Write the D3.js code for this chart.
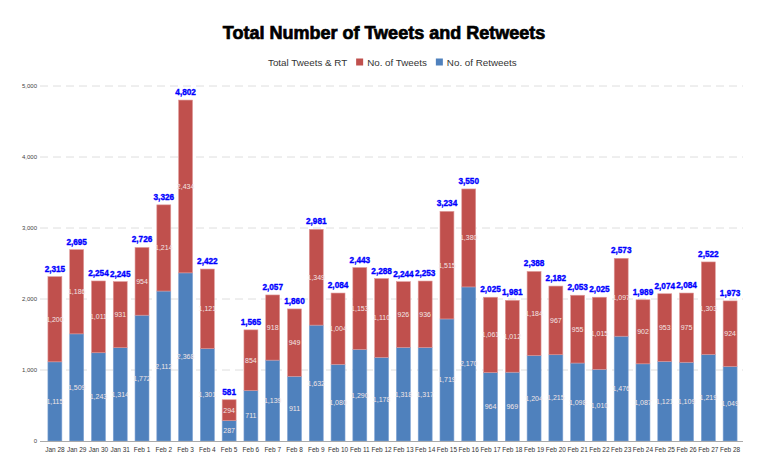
<!DOCTYPE html>
<html><head><meta charset="utf-8">
<script src="https://cdn.jsdelivr.net/npm/d3@7"></script>
<style>body{margin:0;background:#fff}svg{display:block}</style>
</head><body>
<svg id="c" width="768" height="475"></svg>
<script>
const categories = ["Jan 28","Jan 29","Jan 30","Jan 31","Feb 1","Feb 2","Feb 3","Feb 4","Feb 5","Feb 6","Feb 7","Feb 8","Feb 9","Feb 10","Feb 11","Feb 12","Feb 13","Feb 14","Feb 15","Feb 16","Feb 17","Feb 18","Feb 19","Feb 20","Feb 21","Feb 22","Feb 23","Feb 24","Feb 25","Feb 26","Feb 27","Feb 28"];
const retweets = [1115,1509,1243,1314,1772,2112,2368,1301,287,711,1139,911,1632,1080,1290,1178,1318,1317,1719,2170,964,969,1204,1215,1098,1010,1476,1087,1121,1109,1219,1049];
const tweets = [1200,1186,1011,931,954,1214,2434,1121,294,854,918,949,1349,1004,1153,1110,926,936,1515,1380,1061,1012,1184,967,955,1015,1097,902,953,975,1303,924];
const totals = [2315,2695,2254,2245,2726,3326,4802,2422,581,1565,2057,1860,2981,2084,2443,2288,2244,2253,3234,3550,2025,1981,2388,2182,2053,2025,2573,1989,2074,2084,2522,1973];
const yTicks = [0,1000,2000,3000,4000,5000];
const seriesNames = ["Total Tweets & RT","No. of Tweets","No. of Retweets"];
const colors = {tweets:"#c0504d", retweets:"#4f81bd", total:"#0000ff"};

const svg = d3.select("#c");
const fmt = d3.format(",");
const x = d3.scaleBand().domain(categories).range([44,741]).paddingInner(0.36).paddingOuter(0.18);
const y = d3.scaleLinear().domain([0,5000]).range([441,86]);

// title
svg.append("text").attr("x",384).attr("y",39).attr("text-anchor","middle")
  .attr("font-family","Liberation Sans, Arial, sans-serif").attr("font-weight","bold")
  .attr("font-size",18).attr("fill","#000").attr("stroke","#000").attr("stroke-width",0.7)
  .text("Total Number of Tweets and Retweets");

// legend
const leg = svg.append("g").attr("font-family","Liberation Sans, Arial, sans-serif").attr("font-size",9.8).attr("fill","#333");
let lx = 268;
const t0 = leg.append("text").attr("x",lx).attr("y",66).text(seriesNames[0]);
lx += t0.node().getComputedTextLength() + 9;
leg.append("rect").attr("x",lx).attr("y",58.5).attr("width",7).attr("height",7).attr("fill",colors.tweets);
lx += 11;
const t1 = leg.append("text").attr("x",lx).attr("y",66).text(seriesNames[1]);
lx += t1.node().getComputedTextLength() + 9;
leg.append("rect").attr("x",lx).attr("y",58.5).attr("width",7).attr("height",7).attr("fill",colors.retweets);
lx += 11;
leg.append("text").attr("x",lx).attr("y",66).text(seriesNames[2]);

// grid
const grid = svg.append("g");
grid.selectAll("line").data(yTicks.filter(d=>d>0)).join("line")
  .attr("x1",40).attr("x2",743).attr("y1",d=>y(d)).attr("y2",d=>y(d))
  .attr("stroke","#dedede").attr("stroke-width",1).attr("stroke-dasharray","8,5");

// y axis labels
const yAxis = d3.axisLeft(y).tickValues(yTicks).tickFormat(fmt).tickSize(0).tickPadding(0);
const ya = svg.append("g").attr("transform","translate(37,0)").call(yAxis);
ya.select(".domain").remove();
ya.selectAll("text").attr("font-family","Liberation Sans, Arial, sans-serif").attr("font-size",6).attr("fill","#444");

// bars
const g = svg.append("g");
g.selectAll("rect.rt").data(categories).join("rect").attr("class","rt")
  .attr("x",d=>x(d)).attr("width",x.bandwidth())
  .attr("y",(d,i)=>y(retweets[i])).attr("height",(d,i)=>y(0)-y(retweets[i]))
  .attr("fill",colors.retweets).attr("stroke","#7fa3d3").attr("stroke-width",0.6);
g.selectAll("rect.tw").data(categories).join("rect").attr("class","tw")
  .attr("x",d=>x(d)).attr("width",x.bandwidth())
  .attr("y",(d,i)=>y(retweets[i]+tweets[i])).attr("height",(d,i)=>y(retweets[i])-y(retweets[i]+tweets[i]))
  .attr("fill",colors.tweets).attr("stroke","#e09a9a").attr("stroke-width",0.6);

// segment labels
const lab = svg.append("g").attr("font-family","Liberation Sans, Arial, sans-serif").attr("font-size",7)
  .attr("text-anchor","middle").attr("fill","#f3e6e6");
lab.selectAll("text.rt").data(categories).join("text").attr("class","rt")
  .attr("x",d=>x(d)+x.bandwidth()/2).attr("y",(d,i)=>y(retweets[i]/2)+2.5)
  .text((d,i)=>fmt(retweets[i]));
lab.selectAll("text.tw").data(categories).join("text").attr("class","tw")
  .attr("x",d=>x(d)+x.bandwidth()/2).attr("y",(d,i)=>y(retweets[i]+tweets[i]/2)+2.5)
  .text((d,i)=>fmt(tweets[i]));

// totals
svg.append("g").attr("font-family","Liberation Sans, Arial, sans-serif").attr("font-size",8.2)
  .attr("font-weight","bold").attr("text-anchor","middle").attr("fill",colors.total)
  .attr("stroke",colors.total).attr("stroke-width",0.35)
  .selectAll("text").data(categories).join("text")
  .attr("x",d=>x(d)+x.bandwidth()/2).attr("y",(d,i)=>y(totals[i])-5)
  .text((d,i)=>fmt(totals[i]));

// x axis
const xAxis = d3.axisBottom(x).tickSize(0).tickPadding(6);
const xa = svg.append("g").attr("transform","translate(0,441)").call(xAxis);
xa.select(".domain").attr("d","M40,0.5H743").attr("stroke","#aaa").attr("stroke-width",1.2);
xa.selectAll("text").attr("font-family","Liberation Sans, Arial, sans-serif").attr("font-size",6.5).attr("fill","#333");
</script>
</body></html>
